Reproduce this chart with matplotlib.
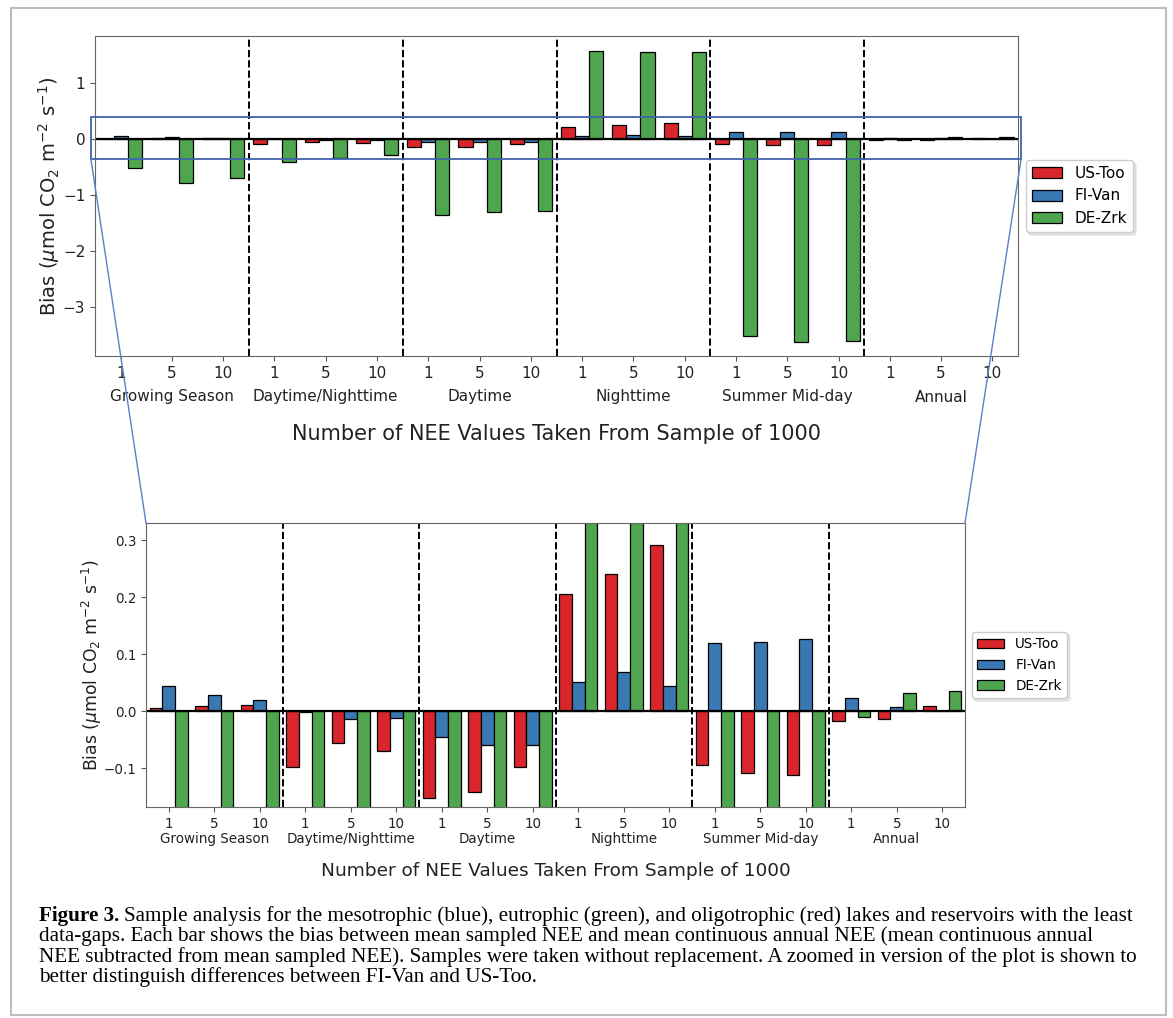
import matplotlib.pyplot as plt
import numpy as np
from matplotlib.patches import Rectangle, ConnectionPatch

periods = ['Growing Season', 'Daytime/Nighttime', 'Daytime', 'Nighttime',
           'Summer Mid-day', 'Annual']
sample_sizes = ['1', '5', '10']
sites = ['US-Too', 'FI-Van', 'DE-Zrk']

# bias (umol CO2 m-2 s-1), one value per period x sample size
us_too = [0.006, 0.009, 0.010, -0.097, -0.056, -0.069, -0.152, -0.141, -0.097,
          0.205, 0.241, 0.292, -0.095, -0.108, -0.112, -0.018, -0.014, 0.009]
fi_van = [0.044, 0.028, 0.019, -0.002, -0.013, -0.012, -0.046, -0.059, -0.060,
          0.052, 0.069, 0.044, 0.120, 0.122, 0.126, 0.024, 0.008, 0.001]
de_zrk = [-0.52, -0.79, -0.70, -0.41, -0.34, -0.29, -1.36, -1.30, -1.29,
          1.58, 1.56, 1.56, -3.52, -3.63, -3.61, -0.011, 0.032, 0.036]

colors = ['#d8262c', '#3a78b3', '#4fa64f']

caption_bold = 'Figure 3.'
caption_lines = [
    'Sample analysis for the mesotrophic (blue), eutrophic (green), and oligotrophic (red) lakes and reservoirs with the least',
    'data-gaps. Each bar shows the bias between mean sampled NEE and mean continuous annual NEE (mean continuous annual',
    'NEE subtracted from mean sampled NEE). Samples were taken without replacement. A zoomed in version of the plot is shown to',
    'better distinguish differences between FI-Van and US-Too.',
]

W, H = 1173, 1018
x = np.arange(len(periods) * len(sample_sizes))
width = 0.275

fig = plt.figure(figsize=(W / 100, H / 100), dpi=100)
fig.patch.set_facecolor('white')


def bias_panel(ax, s, cat_y, xlab_y, ylab_x):
    for off, vals, c, name in zip([-width, 0, width], [us_too, fi_van, de_zrk], colors, sites):
        ax.bar(x + off, vals, width, color=c, edgecolor='black', linewidth=0.9, label=name)
    ax.axhline(0, color='black', lw=1.6)
    for b in range(1, len(periods)):
        ax.axvline(3 * b - 0.5, color='black', ls='--', lw=1.4)
    ax.set_xlim(-0.5, len(x) - 0.5)
    ax.set_xticks(x)
    ax.set_xticklabels(sample_sizes * len(periods))
    ax.tick_params(labelsize=11 * s, colors='#555555', labelcolor='#222222')
    for sp in ax.spines.values():
        sp.set_color('#666666')
    tr = ax.get_xaxis_transform()
    for i, p in enumerate(periods):
        ax.text(3 * i + 1, cat_y, p, transform=tr, ha='center', va='center',
                fontsize=11 * s, color='#222222')
    ax.set_xlabel('Number of NEE Values Taken From Sample of 1000', fontsize=15 * s, color='#222222')
    ax.xaxis.label.set_va('center')
    ax.xaxis.set_label_coords(0.5, xlab_y)
    ax.set_ylabel(r'Bias ($\mu$mol CO$_2$ m$^{-2}$ s$^{-1}$)', fontsize=14 * s, color='#222222')
    ax.yaxis.label.set_va('center')
    ax.yaxis.set_label_coords(ylab_x, 0.5)
    ax.legend(loc='center left', bbox_to_anchor=(1, 0.5), fontsize=11 * s,
              edgecolor='0.8', framealpha=1, shadow={'color': '0.8', 'alpha': 0.5})


# full-range panel
ax1 = fig.add_axes([95 / W, (H - 356) / H, 923 / W, 320 / H])
bias_panel(ax1, 1.0, -41 / 320, -78 / 320, -0.050)
ax1.set_ylim(-3.88, 1.84)
ax1.set_yticks([-3, -2, -1, 0, 1])
ax1.set_yticklabels(['\u22123', '\u22122', '\u22121', '0', '1'])

# zoomed panel
ax2 = fig.add_axes([146 / W, (H - 807) / H, 819 / W, 284 / H])
bias_panel(ax2, 0.887, -32 / 284, -64 / 284, -0.066)
ax2.set_ylim(-0.168, 0.33)
ax2.set_yticks([-0.1, 0.0, 0.1, 0.2, 0.3])
ax2.set_yticklabels(['\u22120.1', '0.0', '0.1', '0.2', '0.3'])

# zoom window and connectors
zx0, zx1, zy0, zy1 = -0.58, 17.56, -0.36, 0.39
ax1.add_patch(Rectangle((zx0, zy0), zx1 - zx0, zy1 - zy0, fill=False,
                        ec='#3f64ad', lw=1.3, clip_on=False, zorder=5))
for xa, xb in [(zx0, 0), (zx1, 1)]:
    con = ConnectionPatch(xyA=(xa, zy0), coordsA=ax1.transData,
                          xyB=(xb, 1), coordsB=ax2.transAxes,
                          color='#5b7fc4', lw=1.0)
    fig.add_artist(con)

# outer frame
fig.add_artist(Rectangle((11 / W, (H - 1015) / H), 1155 / W, 1007 / H,
                         transform=fig.transFigure, fill=False, ec='#bdbdbd', lw=1.5))

# caption
cap_font = 'Liberation Serif'
cap_size = 15.2
line_y = [916, 936.5, 957, 977.5]
r = fig.canvas.get_renderer()
t = fig.text(39 / W, 1 - line_y[0] / H, caption_bold, fontsize=cap_size, family=cap_font,
             fontweight='bold', va='center', ha='left')
bb = t.get_window_extent(renderer=r)
fig.text(bb.x1 / W + 5 / W, 1 - line_y[0] / H, caption_lines[0], fontsize=cap_size,
         family=cap_font, va='center', ha='left')
for yy, line in zip(line_y[1:], caption_lines[1:]):
    fig.text(39 / W, 1 - yy / H, line, fontsize=cap_size, family=cap_font, va='center', ha='left')

fig.savefig('out.png', dpi=100)
